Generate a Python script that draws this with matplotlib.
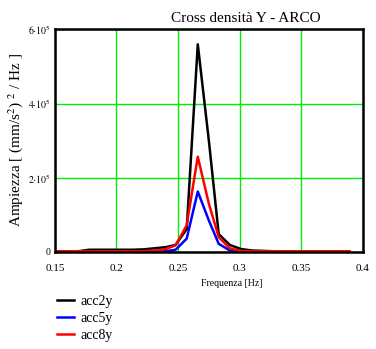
import matplotlib
matplotlib.use('Agg')
import matplotlib.pyplot as plt

# frequenze [Hz]
freq = [0.151, 0.160, 0.169, 0.178, 0.187, 0.195, 0.204, 0.213, 0.222, 0.231,
        0.240, 0.248, 0.257, 0.266, 0.275, 0.283, 0.292, 0.301, 0.310, 0.319,
        0.327, 0.336, 0.345, 0.354, 0.363, 0.372, 0.380, 0.389]

# valori in unita' di 1e5 (mm/s^2)^2/Hz
acc2y = [0.01, 0.01, 0.02, 0.06, 0.06, 0.06, 0.06, 0.06, 0.07, 0.10,
         0.13, 0.19, 0.62, 5.60, 3.00, 0.48, 0.19, 0.08, 0.04, 0.03,
         0.02, 0.02, 0.02, 0.01, 0.01, 0.01, 0.01, 0.01]
acc5y = [0.00, 0.00, 0.00, 0.00, 0.00, 0.00, 0.00, 0.00, 0.01, 0.01,
         0.02, 0.06, 0.36, 1.63, 0.85, 0.22, 0.04, 0.01, 0.00, 0.00,
         0.00, 0.00, 0.00, 0.00, 0.00, 0.00, 0.00, 0.00]
acc8y = [0.02, 0.02, 0.02, 0.02, 0.02, 0.02, 0.02, 0.02, 0.02, 0.04,
         0.08, 0.18, 0.72, 2.57, 1.30, 0.40, 0.10, 0.03, 0.02, 0.02,
         0.02, 0.02, 0.02, 0.02, 0.02, 0.02, 0.02, 0.02]

xticks = [0.15, 0.2, 0.25, 0.3, 0.35, 0.4]
xticklabels = ['0.15', '0.2', '0.25', '0.3', '0.35', '0.4']
yticks = [0, 2e5, 4e5, 6e5]
yticklabels = ['0', r'$2{\cdot}10^5$', r'$4{\cdot}10^5$', r'$6{\cdot}10^5$']

plt.rcParams['font.family'] = ['Liberation Serif', 'DejaVu Serif']
plt.rcParams['mathtext.fontset'] = 'stix'

fig = plt.figure(figsize=(3.76, 3.49), dpi=100)
ax = fig.add_axes([0.146, 0.278, 0.819, 0.6375])

ax.plot(freq, [v * 1e5 for v in acc2y], color='black', lw=1.8, label='acc2y')
ax.plot(freq, [v * 1e5 for v in acc5y], color='blue', lw=1.8, label='acc5y')
ax.plot(freq, [v * 1e5 for v in acc8y], color='red', lw=1.8, label='acc8y')

ax.set_xlim(0.15, 0.4)
ax.set_ylim(0, 6e5)
ax.set_xticks(xticks)
ax.set_xticklabels(xticklabels, fontsize=8)
ax.set_yticks(yticks)
ax.set_yticklabels(yticklabels, fontsize=7)
ax.tick_params(axis='x', length=0, pad=9)
ax.tick_params(axis='y', length=0, pad=3)
ax.grid(True, color='#00ee00', lw=1)
ax.set_axisbelow(True)
for s in ax.spines.values():
    s.set_linewidth(1.8)
    s.set_color('black')

fig.text(246 / 376, 1 - 19 / 349, 'Cross densità Y - ARCO', ha='center', va='center', fontsize=11)
fig.text(232 / 376, 1 - 283 / 349, 'Frequenza [Hz]', ha='center', va='center', fontsize=7)
fig.text(16 / 376, 1 - 140 / 349, 'Ampiezza [ (mm/s$^2$) $^2$ / Hz ]', rotation=90,
         ha='center', va='center', fontsize=11)

fig.legend(loc='upper left', bbox_to_anchor=(50 / 376, 1 - 288 / 349), frameon=False,
           fontsize=10, handlelength=1.25, labelspacing=0.3, borderpad=0, handletextpad=0.45)

fig.savefig('out.png', dpi=100)
